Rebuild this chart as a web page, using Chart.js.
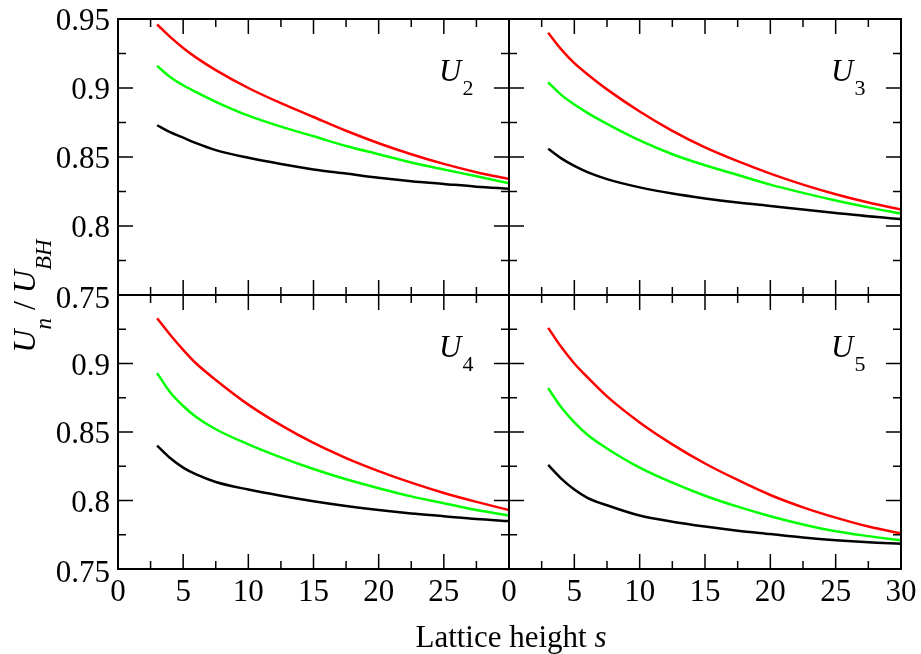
<!DOCTYPE html>
<html>
<head>
<meta charset="utf-8">
<script src="https://cdn.jsdelivr.net/npm/chart.js@4.4.1/dist/chart.umd.min.js"></script>
<style>
  body { margin: 0; background: #fff; }
  #wrap { position: relative; width: 921px; height: 654px; }
  #wrap canvas { position: absolute; left: 0; top: 0; }
</style>
</head>
<body>
<div id="wrap">
  <canvas id="u2" width="921" height="654"></canvas>
  <canvas id="u3" width="921" height="654"></canvas>
  <canvas id="u4" width="921" height="654"></canvas>
  <canvas id="u5" width="921" height="654"></canvas>
</div>
<script>
// lattice height s
const sValues = [3, 4, 5, 6, 7.5, 10, 12.5, 15, 17.5, 20, 22.5, 25, 27.5, 30];

const xTicks = [0, 5, 10, 15, 20, 25, 30];
const yTicks = [0.75, 0.8, 0.85, 0.9, 0.95];
const yTickLabels = ['0.75', '0.8', '0.85', '0.9', '0.95'];

// U2
const red2   = [0.946, 0.937, 0.929, 0.922, 0.913, 0.900, 0.889, 0.879, 0.869, 0.860, 0.852, 0.845, 0.839, 0.834];
const green2 = [0.916, 0.908, 0.902, 0.897, 0.890, 0.880, 0.872, 0.865, 0.858, 0.852, 0.846, 0.841, 0.836, 0.831];
const black2 = [0.873, 0.868, 0.864, 0.860, 0.855, 0.8495, 0.845, 0.841, 0.838, 0.835, 0.8325, 0.8305, 0.8285, 0.827];
// U3
const red3   = [0.940, 0.928, 0.918, 0.910, 0.899, 0.883, 0.869, 0.857, 0.847, 0.838, 0.830, 0.823, 0.817, 0.812];
const green3 = [0.904, 0.895, 0.888, 0.882, 0.874, 0.862, 0.852, 0.844, 0.837, 0.830, 0.824, 0.8185, 0.8135, 0.809];
const black3 = [0.856, 0.849, 0.8435, 0.839, 0.834, 0.828, 0.8235, 0.820, 0.817, 0.8145, 0.812, 0.8095, 0.807, 0.805];
// U4
const red4   = [0.933, 0.921, 0.910, 0.900, 0.888, 0.870, 0.855, 0.842, 0.831, 0.8215, 0.813, 0.8055, 0.799, 0.793];
const green4 = [0.893, 0.879, 0.869, 0.861, 0.852, 0.841, 0.8315, 0.823, 0.8155, 0.809, 0.803, 0.798, 0.793, 0.789];
const black4 = [0.840, 0.831, 0.824, 0.819, 0.8135, 0.808, 0.8035, 0.7995, 0.796, 0.793, 0.7905, 0.7885, 0.7865, 0.785];
// U5
const red5   = [0.926, 0.912, 0.900, 0.890, 0.876, 0.857, 0.841, 0.827, 0.815, 0.804, 0.795, 0.7875, 0.781, 0.776];
const green5 = [0.882, 0.868, 0.857, 0.848, 0.838, 0.824, 0.813, 0.8035, 0.7955, 0.7885, 0.7825, 0.7775, 0.774, 0.771];
const black5 = [0.826, 0.816, 0.808, 0.802, 0.7965, 0.789, 0.7845, 0.781, 0.778, 0.7755, 0.773, 0.771, 0.7695, 0.7685];

const serif = "'Liberation Serif', 'DejaVu Serif', serif";
const W = 921, H = 654;

// panel boxes: left, top, right, bottom (in page px)
const panels = [
  { id: 'u2', sub: '2', box: [118, 19, 509, 295],  data: [red2, green2, black2], xLab: null,              yLab: [0, 1, 2, 3, 4], titles: true },
  { id: 'u3', sub: '3', box: [509, 19, 901, 295],  data: [red3, green3, black3], xLab: null,              yLab: null },
  { id: 'u4', sub: '4', box: [118, 295, 509, 569], data: [red4, green4, black4], xLab: [0, 1, 2, 3, 4, 5], yLab: [0, 1, 2, 3] },
  { id: 'u5', sub: '5', box: [509, 295, 901, 569], data: [red5, green5, black5], xLab: [0, 1, 2, 3, 4, 5, 6], yLab: null }
];

const panelFrame = {
  id: 'panelFrame',
  afterDraw(chart, args, opts) {
    const { ctx, chartArea: a } = chart;
    const x = chart.scales.x, y = chart.scales.y;
    ctx.save();
    ctx.strokeStyle = '#000';
    ctx.lineWidth = 1.5;
    ctx.beginPath();
    for (let i = 0; i <= 12; i++) {
      const px = x.getPixelForValue(i * 2.5);
      const len = i % 2 === 0 ? 15 : 8;
      ctx.moveTo(px, a.bottom); ctx.lineTo(px, a.bottom - len);
      ctx.moveTo(px, a.top); ctx.lineTo(px, a.top + len);
    }
    for (let i = 0; i <= 8; i++) {
      const py = y.getPixelForValue(0.75 + i * 0.025);
      const len = i % 2 === 0 ? 15 : 8;
      ctx.moveTo(a.left, py); ctx.lineTo(a.left + len, py);
      ctx.moveTo(a.right, py); ctx.lineTo(a.right - len, py);
    }
    ctx.stroke();
    ctx.lineWidth = 2;
    ctx.strokeRect(a.left, a.top, a.right - a.left, a.bottom - a.top);

    ctx.fillStyle = '#000';
    ctx.font = '31px ' + serif;
    ctx.textBaseline = 'alphabetic';
    if (opts.xLab) {
      ctx.textAlign = 'center';
      opts.xLab.forEach(i => {
        ctx.fillText(String(xTicks[i]), x.getPixelForValue(xTicks[i]), a.bottom + 32);
      });
    }
    if (opts.yLab) {
      ctx.textAlign = 'right';
      opts.yLab.forEach(i => {
        const off = i === 0 ? 13 : 11;
        ctx.fillText(yTickLabels[i], a.left - 8, y.getPixelForValue(yTicks[i]) + off);
      });
    }

    // panel label U_n
    ctx.textAlign = 'left';
    ctx.font = 'italic 31px ' + serif;
    const ux = a.right - 70;
    ctx.fillText('U', ux, a.top + 62);
    const uw = ctx.measureText('U').width;
    ctx.font = '22px ' + serif;
    ctx.fillText(opts.sub, ux + uw + 1, a.top + 76);

    if (opts.titles) {
      // x title
      ctx.font = '31px ' + serif;
      const t1 = 'Lattice height ';
      const w1 = ctx.measureText(t1).width;
      ctx.font = 'italic 31px ' + serif;
      const w2 = ctx.measureText('s').width;
      let sx = 511 - (w1 + w2) / 2;
      ctx.font = '31px ' + serif;
      ctx.fillText(t1, sx, 647);
      ctx.font = 'italic 31px ' + serif;
      ctx.fillText('s', sx + w1, 647);

      // y title, rotated
      const parts = [
        { t: 'U', f: 'italic 32px ' + serif, dy: 0 },
        { t: 'n', f: 'italic 23px ' + serif, dy: 16 },
        { t: ' / ', f: '32px ' + serif, dy: 0 },
        { t: 'U', f: 'italic 32px ' + serif, dy: 0 },
        { t: 'BH', f: 'italic 23px ' + serif, dy: 16 }
      ];
      let total = 0;
      parts.forEach(p => { ctx.font = p.f; p.w = ctx.measureText(p.t).width; total += p.w; });
      ctx.translate(35, 296);
      ctx.rotate(-Math.PI / 2);
      let cx = -total / 2;
      parts.forEach(p => { ctx.font = p.f; ctx.fillText(p.t, cx, p.dy); cx += p.w; });
    }
    ctx.restore();
  }
};

const colors = ['#ff0000', '#00ff00', '#000000'];

panels.forEach(p => {
  const [l, t, r, b] = p.box;
  new Chart(document.getElementById(p.id), {
    type: 'line',
    data: {
      datasets: p.data.map((vals, k) => ({
        data: sValues.map((s, i) => ({ x: s, y: vals[i] })),
        borderColor: colors[k],
        borderWidth: 2.5,
        pointRadius: 0,
        fill: false,
        cubicInterpolationMode: 'monotone'
      }))
    },
    options: {
      responsive: false,
      animation: false,
      devicePixelRatio: 1,
      layout: { padding: { left: l, top: t, right: W - r, bottom: H - b } },
      plugins: {
        legend: { display: false },
        tooltip: { enabled: false },
        panelFrame: { sub: p.sub, xLab: p.xLab, yLab: p.yLab, titles: !!p.titles }
      },
      scales: {
        x: { type: 'linear', min: 0, max: 30, display: false },
        y: { type: 'linear', min: 0.75, max: 0.95, display: false }
      }
    },
    plugins: [panelFrame]
  });
});
</script>
</body>
</html>
